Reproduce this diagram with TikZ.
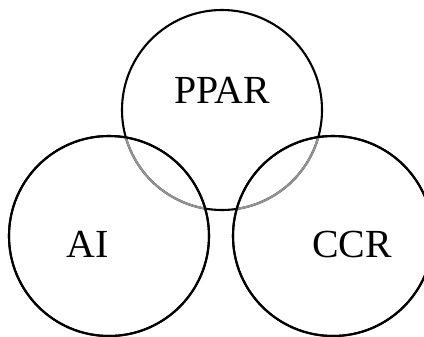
\documentclass[tikz,border=0pt]{standalone}
\usepackage{fontspec}
\setmainfont{Liberation Serif}
\tikzset{
	venn/.style    = {draw, circle, line width=1.8pt,
		minimum size = 6cm,
		inner sep = 0pt},
	overlap/.style = {draw=black!42, line width=1.8pt},
	lbl/.style     = {anchor=base, inner sep=0pt, font=\fontsize{34}{34}\selectfont},
}
\begin{document}
\begin{tikzpicture}[ x=0.03cm,                      %<--one unit is one pixel
                     y=-0.03cm ]                     %<--y runs downwards
    \useasboundingbox (0,0) rectangle (424,336);

    \draw%-----------------------------------------------------------------------------------------
    	%Drawing the Circles:
    	node(ppar) at (222,110) [venn] {}
    	node(ai) at (109,236) [venn] {}
    	node(ccr) at (333,236) [venn] {}
    ;%---------------------------------------------------------------------------------------------

    %Greying the parts of PPAR inside AI and CCR
    \begin{scope}
    	\clip (ai.center) circle (3cm);
    	\path[overlap] (ppar.center) circle (3cm);
    \end{scope}
    \begin{scope}
    	\clip (ccr.center) circle (3cm);
    	\path[overlap] (ppar.center) circle (3cm);
    \end{scope}
    \draw[line width=1.8pt] (ai.center) circle (3cm);
    \draw[line width=1.8pt] (ccr.center) circle (3cm);

    %Drawing the Labels:
    \draw%--------------------------------------------------------------
    	node(ppartext) at (222,103) [lbl] {PPAR}
    	node(aitext) at (88,257) [lbl] {AI}
    	node(ccrtext) at (352,257) [lbl] {CCR}
    ;%------------------------------------------------------------------
\end{tikzpicture}
\end{document}
